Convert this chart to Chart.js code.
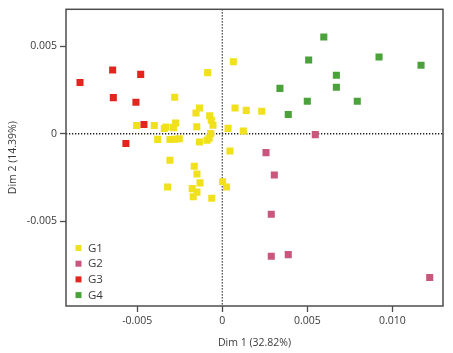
<!DOCTYPE html>
<html>
<head>
<meta charset="utf-8">
<script src="https://cdn.jsdelivr.net/npm/chart.js@4.4.1/dist/chart.umd.min.js"></script>
<style>
  html, body { margin: 0; padding: 0; background: #fff; }
  #wrap { width: 453px; height: 353px; }
</style>
</head>
<body>
<div id="wrap"><canvas id="pca"></canvas></div>
<script>
// Group names and colours
const groups = ["G1", "G2", "G3", "G4"];
const groupColors = ["#f0e11c", "#c8577b", "#e2261f", "#4ba23a"];

// Dim 1 / Dim 2 coordinates per group
const g1X = [0.00065, -0.00086, -0.00280, -0.00134, -0.00155, 0.00075, 0.00141, 0.00232, -0.00074, -0.00065,
             -0.00055, -0.00504, -0.00400, -0.00341, -0.00331, -0.00287, -0.00275, -0.00150, 0.00034, 0.00124,
             -0.00068, -0.00380, -0.00308, -0.00278, -0.00253, -0.00134, -0.00090, -0.00077, 0.00045, -0.00308,
             -0.00165, -0.00149, -0.00131, 0.00002, 0.00025, -0.00322, -0.00177, -0.00149, -0.00171, -0.00062];
const g1Y = [0.00412, 0.00350, 0.00209, 0.00148, 0.00119, 0.00148, 0.00134, 0.00129, 0.00103, 0.00077,
             0.00049, 0.00047, 0.00047, 0.00030, 0.00039, 0.00035, 0.00062, 0.00040, 0.00031, 0.00016,
             0.00001, -0.00032, -0.00033, -0.00031, -0.00029, -0.00047, -0.00037, -0.00026, -0.00099, -0.00152,
             -0.00186, -0.00230, -0.00281, -0.00275, -0.00305, -0.00305, -0.00314, -0.00334, -0.00361, -0.00369];

const g2X = [0.00547, 0.00257, 0.00306, 0.00288, 0.00288, 0.00388, 0.01220];
const g2Y = [-0.00005, -0.00108, -0.00236, -0.00461, -0.00701, -0.00692, -0.00823];

const g3X = [-0.00837, -0.00645, -0.00641, -0.00480, -0.00508, -0.00461, -0.00567];
const g3Y = [0.00293, 0.00365, 0.00207, 0.00340, 0.00180, 0.00053, -0.00056];

const g4X = [0.00597, 0.00508, 0.00922, 0.01169, 0.00671, 0.00671, 0.00339, 0.00500, 0.00794, 0.00388];
const g4Y = [0.00554, 0.00422, 0.00439, 0.00392, 0.00335, 0.00266, 0.00260, 0.00186, 0.00186, 0.00110];

// Axis ticks
const xTicks = [-0.005, 0, 0.005, 0.010];
const xTickLabels = ["-0.005", "0", "0.005", "0.010"];
const yTicks = [-0.005, 0, 0.005];
const yTickLabels = ["-0.005", "0", "0.005"];

const seriesX = [g1X, g2X, g3X, g4X];
const seriesY = [g1Y, g2Y, g3Y, g4Y];

const inkColor = "#3a3a3a";
const frameColor = "#4d4d4d";

// Dotted lines through the origin, box around the plot
const originLines = {
  id: "originLines",
  beforeDatasetsDraw(chart) {
    const { ctx, chartArea: a, scales } = chart;
    const x0 = scales.x.getPixelForValue(0);
    const y0 = scales.y.getPixelForValue(0);
    ctx.save();
    ctx.strokeStyle = "#222";
    ctx.lineWidth = 1.3;
    ctx.setLineDash([1.3, 1.7]);
    ctx.beginPath();
    ctx.moveTo(x0, a.top);
    ctx.lineTo(x0, a.bottom);
    ctx.moveTo(a.left, y0);
    ctx.lineTo(a.right, y0);
    ctx.stroke();
    ctx.restore();
  },
  afterDraw(chart) {
    const { ctx, chartArea: a } = chart;
    ctx.save();
    ctx.strokeStyle = frameColor;
    ctx.lineWidth = 1.5;
    ctx.strokeRect(a.left, a.top, a.right - a.left, a.bottom - a.top);
    ctx.restore();
  }
};

// Legend drawn inside the plot, lower left
const innerLegend = {
  id: "innerLegend",
  afterDraw(chart) {
    const { ctx, chartArea: a } = chart;
    ctx.save();
    ctx.font = "11.5px 'Open Sans'";
    ctx.textBaseline = "middle";
    chart.data.datasets.forEach((ds, i) => {
      const y = a.bottom - 58 + i * 15.7;
      ctx.fillStyle = ds.backgroundColor;
      ctx.fillRect(a.left + 9.5, y - 3, 6, 6);
      ctx.fillStyle = inkColor;
      ctx.fillText(ds.label, a.left + 22, y + 0.5);
    });
    ctx.restore();
  }
};

new Chart(document.getElementById("pca"), {
  type: "scatter",
  plugins: [originLines, innerLegend],
  data: {
    datasets: groups.map((name, i) => ({
      label: name,
      data: seriesX[i].map((x, j) => ({ x: x, y: seriesY[i][j] })),
      backgroundColor: groupColors[i],
      borderWidth: 0,
      pointStyle: "rect",
      pointRadius: 5,
      pointHoverRadius: 5,
    })),
  },
  options: {
    responsive: true,
    maintainAspectRatio: false,
    animation: false,
    events: [],
    layout: { padding: { top: 9, right: 10, left: 0, bottom: 0 } },
    plugins: {
      legend: { display: false },
      tooltip: { enabled: false },
    },
    scales: {
      x: {
        type: "linear",
        min: -0.009194,
        max: 0.012982,
        afterFit: (s) => { s.height = 47; },
        afterBuildTicks: (s) => { s.ticks = xTicks.map(v => ({ value: v })); },
        border: { display: false },
        grid: { drawOnChartArea: false, drawTicks: true, tickLength: 6, tickColor: frameColor, tickWidth: 1.3 },
        ticks: {
          padding: 3,
          maxRotation: 0,
          color: inkColor,
          font: { family: "'Open Sans'", size: 10.5 },
          callback: (v) => xTickLabels[xTicks.indexOf(v)] ?? "",
        },
        title: {
          display: true,
          text: "Dim 1 (32.82%)",
          color: inkColor,
          font: { family: "'Open Sans'", size: 10.5 },
          padding: { top: 0, bottom: 4 },
        },
      },
      y: {
        type: "linear",
        min: -0.009859,
        max: 0.007125,
        afterFit: (s) => { s.width = 66; },
        afterBuildTicks: (s) => { s.ticks = yTicks.map(v => ({ value: v })); },
        border: { display: false },
        grid: { drawOnChartArea: false, drawTicks: true, tickLength: 6, tickColor: frameColor, tickWidth: 1.3 },
        ticks: {
          padding: 3,
          color: inkColor,
          font: { family: "'Open Sans'", size: 10.5 },
          callback: (v) => yTickLabels[yTicks.indexOf(v)] ?? "",
        },
        title: {
          display: true,
          text: "Dim 2 (14.39%)",
          color: inkColor,
          font: { family: "'Open Sans'", size: 10.5 },
          padding: { top: 7, bottom: 0 },
        },
      },
    },
  },
});
</script>
</body>
</html>
